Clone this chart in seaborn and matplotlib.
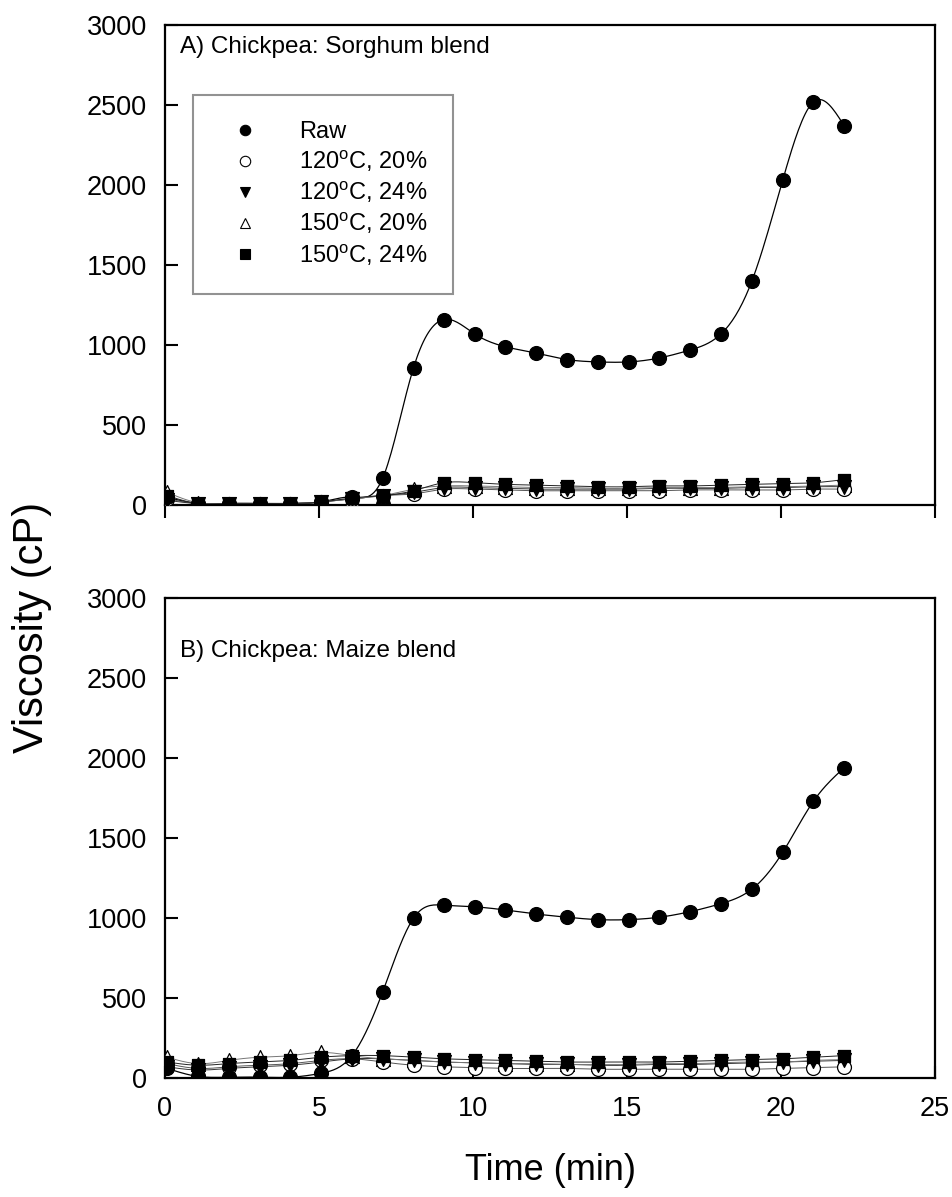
import numpy as np
import pandas as pd
import matplotlib
matplotlib.use("Agg")
import matplotlib.pyplot as plt
import seaborn as sns
from matplotlib.lines import Line2D

# ---- data ----
time_min = [0.07, 1.07, 2.07, 3.07, 4.07, 5.07, 6.07, 7.07, 8.07, 9.05, 10.05, 11.05,
            12.05, 13.05, 14.05, 15.05, 16.05, 17.05, 18.05, 19.05, 20.05, 21.05, 22.05]

series_labels = ["Raw", "120$^\\mathregular{o}$C, 20%", "120$^\\mathregular{o}$C, 24%",
                 "150$^\\mathregular{o}$C, 20%", "150$^\\mathregular{o}$C, 24%"]

# Panel A: Chickpea: Sorghum blend
a_raw = [50, 10, 10, 10, 10, 20, 50, 170, 860, 1160, 1070, 990, 950, 910, 895, 895, 920, 970, 1070, 1400, 2030, 2520, 2370]
a_120_20 = [40, 10, 10, 10, 10, 20, 40, 60, 70, 100, 100, 95, 90, 90, 90, 90, 90, 95, 95, 95, 95, 100, 100]
a_120_24 = [30, 10, 10, 10, 10, 20, 40, 60, 80, 110, 110, 105, 100, 100, 100, 100, 105, 105, 105, 110, 110, 115, 115]
a_150_20 = [80, 15, 10, 10, 10, 20, 40, 60, 100, 120, 120, 115, 110, 110, 105, 105, 110, 110, 110, 115, 115, 120, 125]
a_150_24 = [60, 10, 10, 10, 10, 20, 45, 60, 90, 140, 140, 130, 125, 120, 115, 115, 120, 120, 125, 130, 135, 140, 160]

# Panel B: Chickpea: Maize blend
b_raw = [60, 10, 5, 5, 5, 30, 140, 540, 1000, 1080, 1070, 1050, 1025, 1005, 990, 990, 1005, 1040, 1090, 1180, 1410, 1730, 1940]
b_120_20 = [90, 60, 70, 80, 90, 110, 120, 100, 80, 70, 65, 60, 60, 60, 55, 55, 55, 55, 55, 55, 60, 65, 70]
b_120_24 = [70, 50, 60, 70, 80, 100, 120, 120, 110, 100, 95, 90, 85, 85, 80, 80, 85, 85, 90, 95, 100, 105, 110]
b_150_20 = [130, 90, 110, 130, 140, 160, 140, 120, 110, 100, 95, 90, 90, 85, 85, 85, 90, 90, 95, 100, 100, 110, 115]
b_150_24 = [100, 80, 90, 100, 110, 130, 140, 140, 130, 120, 115, 110, 105, 100, 100, 100, 100, 105, 110, 115, 120, 130, 140]

panel_titles = ["A) Chickpea: Sorghum blend", "B) Chickpea: Maize blend"]
x_ticks = [0, 5, 10, 15, 20, 25]
y_ticks = [0, 500, 1000, 1500, 2000, 2500, 3000]

panels = [[a_raw, a_120_20, a_120_24, a_150_20, a_150_24],
          [b_raw, b_120_20, b_120_24, b_150_20, b_150_24]]

# ---- style ----
sns.set_style("ticks")
plt.rcParams["font.family"] = ["Liberation Sans", "DejaVu Sans"]
plt.rcParams["mathtext.fontset"] = "custom"
plt.rcParams["mathtext.rm"] = "Liberation Sans"
plt.rcParams["text.color"] = "black"
plt.rcParams["axes.labelcolor"] = "black"
plt.rcParams["xtick.color"] = "black"
plt.rcParams["ytick.color"] = "black"

markers = ["o", "o", "v", "^", "s"]
facecolors = ["black", "white", "black", "white", "black"]
line_colors = ["black", "#555555", "#333333", "#777777", "#222222"]


def natural_spline(x, y, n=400):
    x = np.asarray(x, float)
    y = np.asarray(y, float)
    k = len(x)
    h = np.diff(x)
    A = np.zeros((k, k))
    r = np.zeros(k)
    A[0, 0] = A[-1, -1] = 1
    for i in range(1, k - 1):
        A[i, i - 1] = h[i - 1]
        A[i, i] = 2 * (h[i - 1] + h[i])
        A[i, i + 1] = h[i]
        r[i] = 3 * ((y[i + 1] - y[i]) / h[i] - (y[i] - y[i - 1]) / h[i - 1])
    c = np.linalg.solve(A, r)
    b = (y[1:] - y[:-1]) / h - h * (2 * c[:-1] + c[1:]) / 3
    d = (c[1:] - c[:-1]) / (3 * h)
    xs = np.linspace(x[0], x[-1], n)
    idx = np.clip(np.searchsorted(x, xs) - 1, 0, k - 2)
    dx = xs - x[idx]
    ys = y[idx] + b[idx] * dx + c[idx] * dx ** 2 + d[idx] * dx ** 3
    return xs, ys


fig = plt.figure(figsize=(9.52, 11.97), dpi=100)
ax_a = fig.add_axes([0.1733, 0.578, 0.809, 0.401])
ax_b = fig.add_axes([0.1733, 0.0994, 0.809, 0.401])

for p, (ax, data) in enumerate(zip([ax_a, ax_b], panels)):
    for j, (vals, lab) in enumerate(zip(data, series_labels)):
        xs, ys = natural_spline(time_min, vals)
        ax.plot(xs, ys, color=line_colors[j], lw=0.9 if j == 0 else 0.7, zorder=2)
    for j in [3, 1, 2, 4, 0]:
        df = pd.DataFrame({"t": time_min, "v": data[j]})
        sns.scatterplot(data=df, x="t", y="v", ax=ax, marker=markers[j],
                        s=100 if markers[j] != "s" else 85,
                        facecolor=facecolors[j], edgecolor="black", linewidth=0.9,
                        zorder=3, legend=False)
    ax.set_xlim(0, 25)
    ax.set_ylim(0, 3000)
    ax.set_yticks(y_ticks)
    ax.set_xticks(x_ticks)
    ax.tick_params(axis="y", direction="in", length=9, width=1.5, labelsize=19.5, pad=13)
    ax.tick_params(axis="x", direction="in" if p == 1 else "out", length=9, width=1.5,
                   labelsize=19.5, pad=13)
    for s in ax.spines.values():
        s.set_linewidth(1.6)
        s.set_color("black")
    ax.set_xlabel("")
    ax.set_ylabel("")
    ax.text(0.02, 0.955 if p == 0 else 0.89, panel_titles[p], transform=ax.transAxes,
            fontsize=17.5, va="center", ha="left")

ax_a.set_xticklabels([])
ax_b.set_xlabel("Time (min)", fontsize=26, labelpad=22)
fig.text(0.034, 0.476, "Viscosity (cP)", rotation=90, fontsize=30, va="center", ha="center")

handles = [Line2D([], [], linestyle="none", marker=markers[j], markersize=7.5 if markers[j] != "s" else 7,
                  markerfacecolor=facecolors[j], markeredgecolor="black", markeredgewidth=0.8)
           for j in range(5)]
leg = ax_a.legend(handles, series_labels, loc="upper left", bbox_to_anchor=(0.036, 0.854),
                  fontsize=17, frameon=True, fancybox=False, borderpad=1.1, labelspacing=0.22,
                  handletextpad=1.2, handlelength=2.2, borderaxespad=0)
leg.get_frame().set_edgecolor("#777777")
leg.get_frame().set_linewidth(1.5)

fig.savefig("out.png", dpi=100, facecolor="white")
